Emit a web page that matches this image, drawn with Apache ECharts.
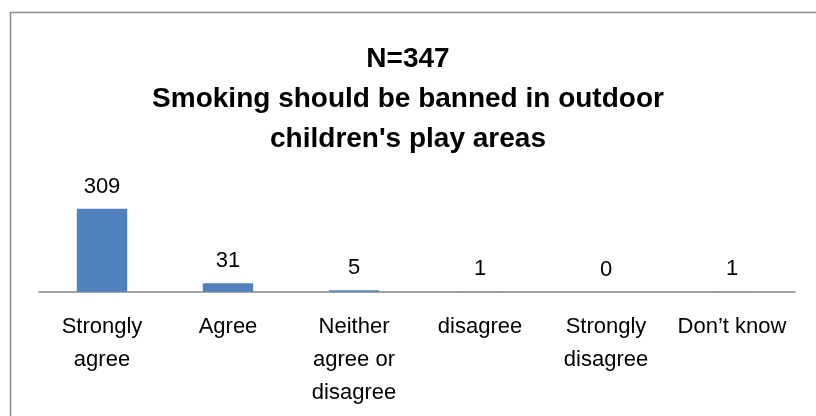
<!DOCTYPE html>
<html><head><meta charset="utf-8">
<script src="https://cdn.jsdelivr.net/npm/echarts@6/dist/echarts.min.js"></script>
<style>html,body{margin:0;padding:0;background:#fff}#c{width:816px;height:416px}</style>
</head><body><div id="c"></div>
<script>
var categories = ["Strongly agree", "Agree", "Neither agree or disagree", "disagree", "Strongly disagree", "Don\u2019t know"];
var tickLabels = ["Strongly\nagree", "Agree", "Neither\nagree or\ndisagree", "disagree", "Strongly\ndisagree", "Don\u2019t know"];
var values = [309, 31, 5, 1, 0, 1];
var titleLines = ["N=347", "Smoking should be banned in outdoor", "children's play areas"];

var FONT = "'Liberation Sans', Arial, sans-serif";
var chart = echarts.init(document.getElementById('c'), null, {renderer: 'canvas'});
chart.setOption({
  animation: false,
  backgroundColor: '#fff',
  graphic: [{
    type: 'rect', shape: {x: 10.5, y: 12.5, width: 820, height: 420},
    style: {fill: 'none', stroke: '#8c8c8c', lineWidth: 1.5}, silent: true
  }],
  title: {
    text: titleLines.join('\n'), left: 'center', top: 34,
    textStyle: {fontFamily: FONT, fontWeight: 'bold', fontSize: 28, lineHeight: 40, color: '#000'}
  },
  grid: {left: 39, right: 21, top: 197.7, bottom: 124.3},
  xAxis: {
    type: 'category', data: categories,
    axisLine: {lineStyle: {color: '#868686', width: 1.5}},
    axisTick: {show: false},
    axisLabel: {
      interval: 0, margin: 19, fontFamily: FONT, fontSize: 22, lineHeight: 33, color: '#000',
      formatter: function (v, i) { return tickLabels[i]; }
    }
  },
  yAxis: {type: 'value', min: 0, max: 350, show: false, splitLine: {show: false}},
  series: [{
    type: 'bar', data: values, barWidth: '40%',
    itemStyle: {color: '#4F81BD'},
    label: {show: true, position: 'top', distance: 11, fontFamily: FONT, fontSize: 22, color: '#000'}
  }]
});
</script></body></html>
